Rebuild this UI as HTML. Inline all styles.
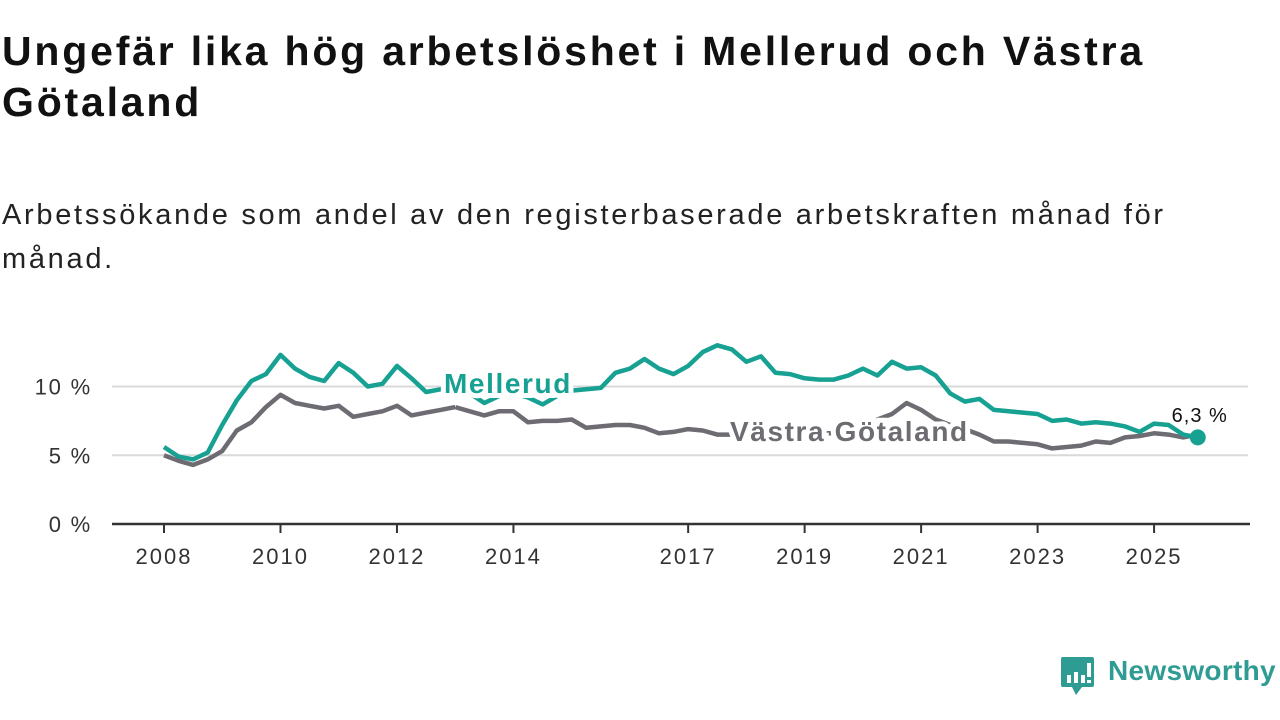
<!DOCTYPE html>
<html><head><meta charset="utf-8"><style>
html,body{margin:0;padding:0;background:#fff;width:1280px;height:720px;overflow:hidden;font-family:"Liberation Sans","DejaVu Sans",sans-serif;}
h1{position:absolute;left:2px;top:26px;margin:0;font-size:41px;line-height:51px;font-weight:bold;color:#111;width:1270px;letter-spacing:2.8px;white-space:nowrap;}
p{position:absolute;left:2px;top:193px;margin:0;font-size:29px;line-height:44px;color:#222;width:1270px;letter-spacing:2.7px;white-space:nowrap;}
svg{position:absolute;left:0;top:0;}
</style></head><body>
<h1>Ungefär lika hög arbetslöshet i Mellerud och Västra<br>Götaland</h1>
<p>Arbetssökande som andel av den registerbaserade arbetskraften månad för<br>månad.</p>
<svg id="chart" width="1280" height="720"></svg>
<div style="position:absolute;left:1060px;top:655px;width:220px;height:42px;">
<svg width="36" height="42" style="position:absolute;left:0;top:0"><path d="M3 2h29a2 2 0 0 1 2 2v26a2 2 0 0 1-2 2H22l-6 8-4-8H3a2 2 0 0 1-2-2V4a2 2 0 0 1 2-2z" fill="#2f9c94"/><rect x="7" y="20" width="4" height="8" fill="#fff"/><rect x="14" y="17" width="4" height="11" fill="#fff"/><rect x="21" y="20" width="4" height="8" fill="#fff"/><rect x="27" y="8" width="4" height="14" fill="#fff"/><rect x="27" y="25" width="4" height="3" fill="#fff"/></svg>
<span style="position:absolute;left:48px;top:0px;font-size:28px;color:#2f9c94;font-weight:bold;letter-spacing:0.3px;">Newsworthy</span></div>
<script>
const years=[2008,2010,2012,2014,2017,2019,2021,2023,2025];
const yTicks=[0,5,10];
const yTickLabels=["0 %","5 %","10 %"];
// quarterly values starting 2008.0
const mellerud=[5.6,4.9,4.7,5.2,7.2,9.0,10.4,10.9,12.3,11.3,10.7,10.4,11.7,11.0,10.0,10.2,11.5,10.6,9.6,9.8,9.8,9.5,8.8,9.3,9.5,9.2,8.7,9.3,9.7,9.8,9.9,11.0,11.3,12.0,11.3,10.9,11.5,12.5,13.0,12.7,11.8,12.2,11.0,10.9,10.6,10.5,10.5,10.8,11.3,10.8,11.8,11.3,11.4,10.8,9.5,8.9,9.1,8.3,8.2,8.1,8.0,7.5,7.6,7.3,7.4,7.3,7.1,6.7,7.3,7.2,6.5,6.3];
const vg=[5.0,4.6,4.3,4.7,5.3,6.8,7.4,8.5,9.4,8.8,8.6,8.4,8.6,7.8,8.0,8.2,8.6,7.9,8.1,8.3,8.5,8.2,7.9,8.2,8.2,7.4,7.5,7.5,7.6,7.0,7.1,7.2,7.2,7.0,6.6,6.7,6.9,6.8,6.5,6.5,6.5,6.6,6.5,6.4,6.5,6.6,6.6,7.0,7.3,7.6,8.0,8.8,8.3,7.6,7.2,6.9,6.5,6.0,6.0,5.9,5.8,5.5,5.6,5.7,6.0,5.9,6.3,6.4,6.6,6.5,6.3,6.5];
const NS="http://www.w3.org/2000/svg";
const svg=document.getElementById('chart');
const X=t=>164+58.24*(t-2008);
const Y=v=>524-13.75*v;
function mk(tag,attrs,parent){const e=document.createElementNS(NS,tag);for(const k in attrs)e.setAttribute(k,attrs[k]);(parent||svg).appendChild(e);return e;}
yTicks.forEach((v,i)=>{
 if(v>0){const g=mk('line',{x1:112,x2:1248,y1:Y(v),y2:Y(v),stroke:'#d9d9d9','stroke-width':2});
 
 }
 const t=mk('text',{x:92,y:Y(v)+8,'text-anchor':'end','font-size':22,fill:'#333','letter-spacing':'1.8px'});t.textContent=yTickLabels[i];
 
 
});
const ax=mk('line',{x1:112,x2:1250,y1:524,y2:524,stroke:'#333','stroke-width':2.5});


years.forEach(y=>{
 const tk=mk('line',{x1:X(y),x2:X(y),y1:524,y2:533,stroke:'#333','stroke-width':2});
 
 
 const t=mk('text',{x:X(y),y:564,'text-anchor':'middle','font-size':22,fill:'#333','letter-spacing':'2px'});t.textContent=y;
 
 
});
function path(arr){return arr.map((v,i)=>(i?'L':'M')+X(2008+i/4).toFixed(1)+','+Y(v).toFixed(1)).join('');}
const l2=mk('path',{d:path(vg),fill:'none',stroke:'#6e6c72','stroke-width':4.5,'stroke-linejoin':'round'});


const l1=mk('path',{d:path(mellerud),fill:'none',stroke:'#17a192','stroke-width':4.5,'stroke-linejoin':'round'});


const lab1=mk('text',{x:444,y:393,'font-size':28,'font-weight':'bold',fill:'#17a192',stroke:'#fff','stroke-width':10,'paint-order':'stroke','letter-spacing':'1.6px'});lab1.textContent='Mellerud';


const lab2=mk('text',{x:730,y:441,'font-size':28,'font-weight':'bold',fill:'#6e6c72',stroke:'#fff','stroke-width':10,'paint-order':'stroke','letter-spacing':'1.6px'});lab2.textContent='Västra Götaland';


const last=mellerud.length-1;
const dot=mk('circle',{cx:X(2008+last/4),cy:Y(mellerud[last]),r:8,fill:'#17a192'});


const vl=mk('text',{x:X(2008+last/4)+2,y:422,'text-anchor':'middle','font-size':20,fill:'#111',stroke:'#fff','stroke-width':6,'paint-order':'stroke','letter-spacing':'1px'});vl.textContent='6,3 %';


</script>
</body></html>
